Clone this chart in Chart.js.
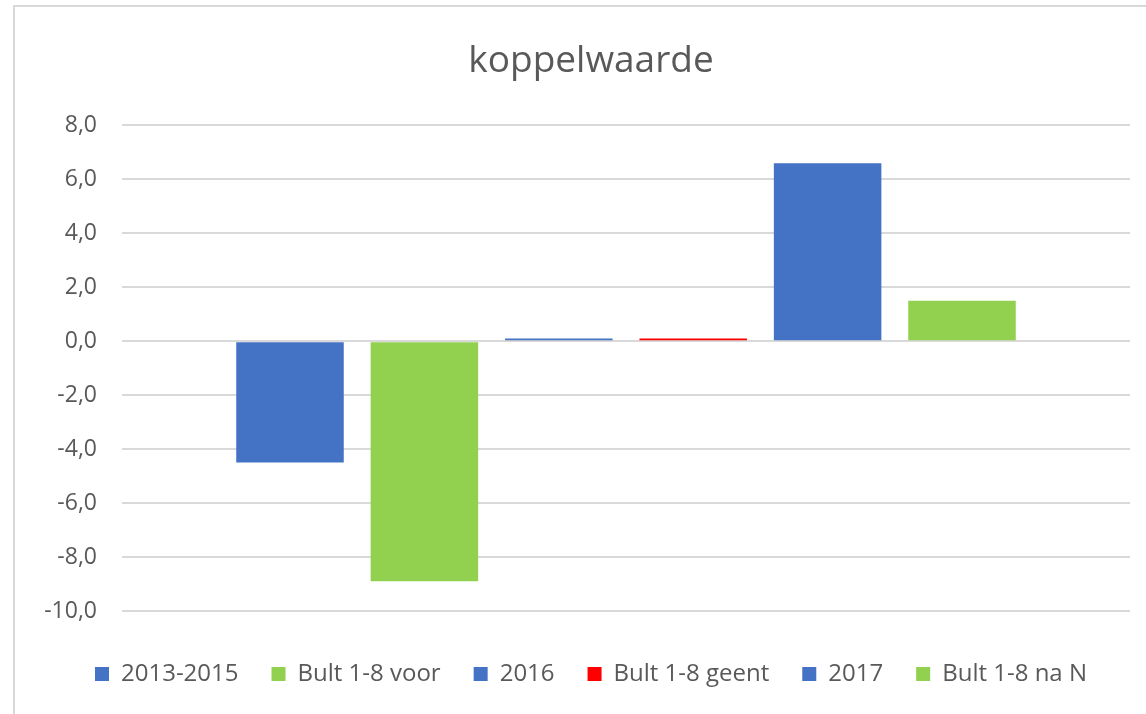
<!DOCTYPE html>
<html>
<head>
<meta charset="utf-8">
<script src="https://cdn.jsdelivr.net/npm/chart.js@4/dist/chart.umd.min.js"></script>
<style>
  body { margin: 0; background: #fff; }
  #wrap { position: relative; width: 1146px; height: 714px; }
  #frame { position: absolute; left: 13px; top: 5px; right: 0; bottom: 0;
           border-left: 2px solid #d9d9d9; border-top: 2px solid #d9d9d9; }
  canvas { position: absolute; left: 0; top: 0; }
</style>
</head>
<body>
<div id="wrap">
  <div id="frame"></div>
  <canvas id="myChart" width="1146" height="714"></canvas>
</div>
<script>
// DATA
const categories = [""];
const seriesNames = ["2013-2015", "Bult 1-8 voor", "2016", "Bult 1-8 geent", "2017", "Bult 1-8 na N"];
const seriesValues = [-4.5, -8.9, 0.1, 0.1, 6.6, 1.5];
const seriesColors = ["#4472C4", "#92D050", "#4472C4", "#FF0000", "#4472C4", "#92D050"];
const yTicks = [-10, -8, -6, -4, -2, 0, 2, 4, 6, 8];

const textColor = "#595959";
const fontFamily = "'Open Sans', sans-serif";

const datasets = seriesNames.map((name, i) => ({
  label: name,
  data: [seriesValues[i]],
  backgroundColor: seriesColors[i],
  borderWidth: 0,
  barPercentage: 0.8,
  categoryPercentage: 0.8,
}));

const ctx = document.getElementById("myChart");
const myChart = new Chart(ctx, {
  type: "bar",
  data: { labels: categories, datasets: datasets },
  options: {
    responsive: false,
    animation: false,
    layout: { padding: { left: 36, right: 0, top: 0, bottom: 18 } },
    plugins: {
      title: {
        display: true,
        text: "koppelwaarde",
        color: textColor,
        font: { family: fontFamily, size: 37, weight: "normal" },
        padding: { top: 39, bottom: 42 },
      },
      legend: {
        position: "bottom",
        labels: {
          color: textColor,
          font: { family: fontFamily, size: 24 },
          boxWidth: 14,
          boxHeight: 14,
          padding: 33,
        },
      },
      tooltip: { enabled: false },
    },
    scales: {
      x: {
        ticks: { display: false },
        grid: { display: false },
        border: { display: false },
        afterFit: (scale) => { scale.height = 18; },
      },
      y: {
        min: -10,
        max: 8,
        afterBuildTicks: (scale) => { scale.ticks = yTicks.map((v) => ({ value: v })); },
        afterFit: (scale) => { scale.width = 86; },
        ticks: {
          color: textColor,
          font: { family: fontFamily, size: 23 },
          padding: 25,
          callback: (v) => v.toFixed(1).replace(".", ","),
        },
        grid: { color: "#d9d9d9", lineWidth: 2, drawTicks: false },
        border: { display: false },
      },
      // empty right axis, only reserves the gap right of the plot
      yRight: {
        position: "right",
        min: -10,
        max: 8,
        ticks: { display: false },
        grid: { display: false },
        border: { display: false },
        afterFit: (scale) => { scale.width = 16; },
      },
    },
  },
});
</script>
</body>
</html>
